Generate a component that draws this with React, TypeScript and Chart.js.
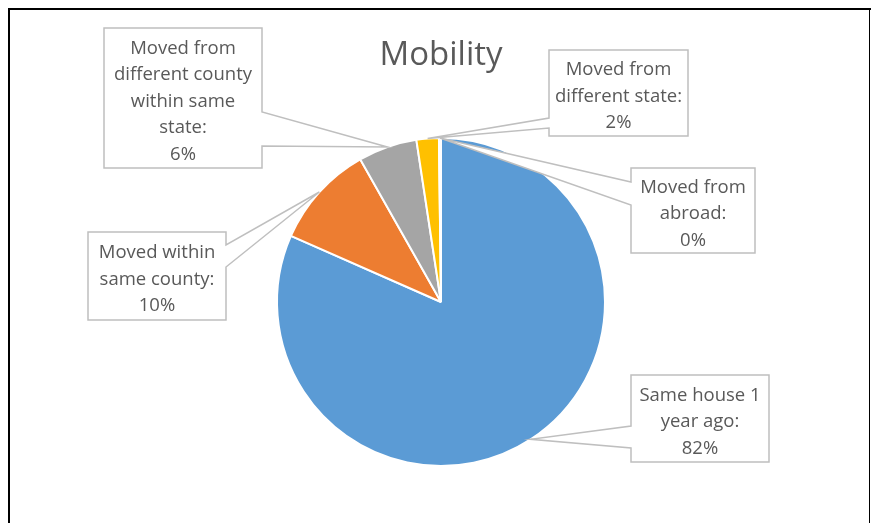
import React, { useEffect, useRef } from "react";
import { Chart, registerables } from "chart.js";

Chart.register(...registerables);

const chartTitle = "Mobility";
const categories: string[][] = [
  ["Same house 1", "year ago"],
  ["Moved within", "same county"],
  ["Moved from", "different county", "within same", "state"],
  ["Moved from", "different state"],
  ["Moved from", "abroad"],
];
const shares = [81.6, 10.2, 5.8, 2.2, 0.2];
const sliceColors = ["#5B9BD5", "#ED7D31", "#A5A5A5", "#FFC000", "#4472C4"];

// Callout boxes layout (page pixels); wedge base offsets are relative to box top
const calloutBoxes = [
  { x: 631, y: 375, w: 138, h: 87, side: "left", b1: 51, b2: 73 },
  { x: 88, y: 232, w: 138, h: 88, side: "right", b1: 13, b2: 35 },
  { x: 104, y: 28, w: 158, h: 140, side: "right", b1: 84, b2: 118 },
  { x: 549, y: 50, w: 139, h: 86, side: "left", b1: 68, b2: 78 },
  { x: 631, y: 168, w: 124, h: 85, side: "left", b1: 14, b2: 37 },
];

const FONT = '"Open Sans", "Noto Sans", sans-serif';
const TEXT_COLOR = "#595959";

const overlayPlugin = {
  id: "overlay",
  afterDatasetsDraw(chart: any) {
    const ctx: CanvasRenderingContext2D = chart.ctx;
    const W = chart.width;
    const H = chart.height;
    ctx.save();
    // chart frame
    ctx.fillStyle = "#000";
    ctx.fillRect(8, 8, W - 8, 2);
    ctx.fillRect(8, 8, 2, H - 8);
    ctx.fillRect(W - 2, 8, 1, H - 8);

    const meta = chart.getDatasetMeta(0);
    const total = shares.reduce((a, b) => a + b, 0);
    const cx = (chart.chartArea.left + chart.chartArea.right) / 2;

    // title
    ctx.fillStyle = TEXT_COLOR;
    ctx.font = `33px ${FONT}`;
    ctx.textAlign = "center";
    ctx.textBaseline = "alphabetic";
    ctx.fillText(chartTitle, cx, 65);

    meta.data.forEach((arc: any, i: number) => {
      const p = arc.getProps(["x", "y", "startAngle", "endAngle", "outerRadius"], true);
      const mid = (p.startAngle + p.endAngle) / 2;
      const tx = p.x + Math.cos(mid) * p.outerRadius;
      const ty = p.y + Math.sin(mid) * p.outerRadius;
      const b = calloutBoxes[i];
      ctx.beginPath();
      ctx.moveTo(b.x, b.y);
      ctx.lineTo(b.x + b.w, b.y);
      if (b.side === "right") {
        ctx.lineTo(b.x + b.w, b.y + b.b1);
        ctx.lineTo(tx, ty);
        ctx.lineTo(b.x + b.w, b.y + b.b2);
      }
      ctx.lineTo(b.x + b.w, b.y + b.h);
      ctx.lineTo(b.x, b.y + b.h);
      if (b.side === "left") {
        ctx.lineTo(b.x, b.y + b.b2);
        ctx.lineTo(tx, ty);
        ctx.lineTo(b.x, b.y + b.b1);
      }
      ctx.closePath();
      ctx.fillStyle = "#fff";
      ctx.fill();
      ctx.strokeStyle = "#BFBFBF";
      ctx.lineWidth = 1.5;
      ctx.stroke();

      const lines = categories[i].slice();
      lines[lines.length - 1] = lines[lines.length - 1] + ":";
      lines.push(`${Math.round((shares[i] / total) * 100)}%`);
      const lh = 26.5;
      const n = lines.length;
      const centerY = b.y + b.h / 2 + 8.5;
      ctx.fillStyle = TEXT_COLOR;
      ctx.font = `18.5px ${FONT}`;
      ctx.textAlign = "center";
      ctx.textBaseline = "alphabetic";
      lines.forEach((ln, k) => {
        ctx.fillText(ln, b.x + b.w / 2, centerY + (k - (n - 1) / 2) * lh);
      });
    });
    ctx.restore();
  },
};

export default function App() {
  const ref = useRef<HTMLCanvasElement | null>(null);
  useEffect(() => {
    if (!ref.current) return;
    const chart = new Chart(ref.current, {
      type: "pie",
      data: {
        labels: categories,
        datasets: [
          {
            data: shares,
            backgroundColor: sliceColors,
            borderColor: "#ffffff",
            borderWidth: 2,
          },
        ],
      },
      options: {
        responsive: false,
        animation: false,
        devicePixelRatio: 1,
        layout: { padding: { left: 276, right: 265, top: 137, bottom: 56 } },
        plugins: {
          legend: { display: false },
          tooltip: { enabled: false },
          title: { display: false },
        },
      },
      plugins: [overlayPlugin],
    });
    return () => chart.destroy();
  }, []);
  return (
    <div style={{ position: "absolute", left: 0, top: 0, width: 871, height: 523, background: "#fff" }}>
      <canvas ref={ref} width={871} height={523} style={{ display: "block" }} />
    </div>
  );
}
